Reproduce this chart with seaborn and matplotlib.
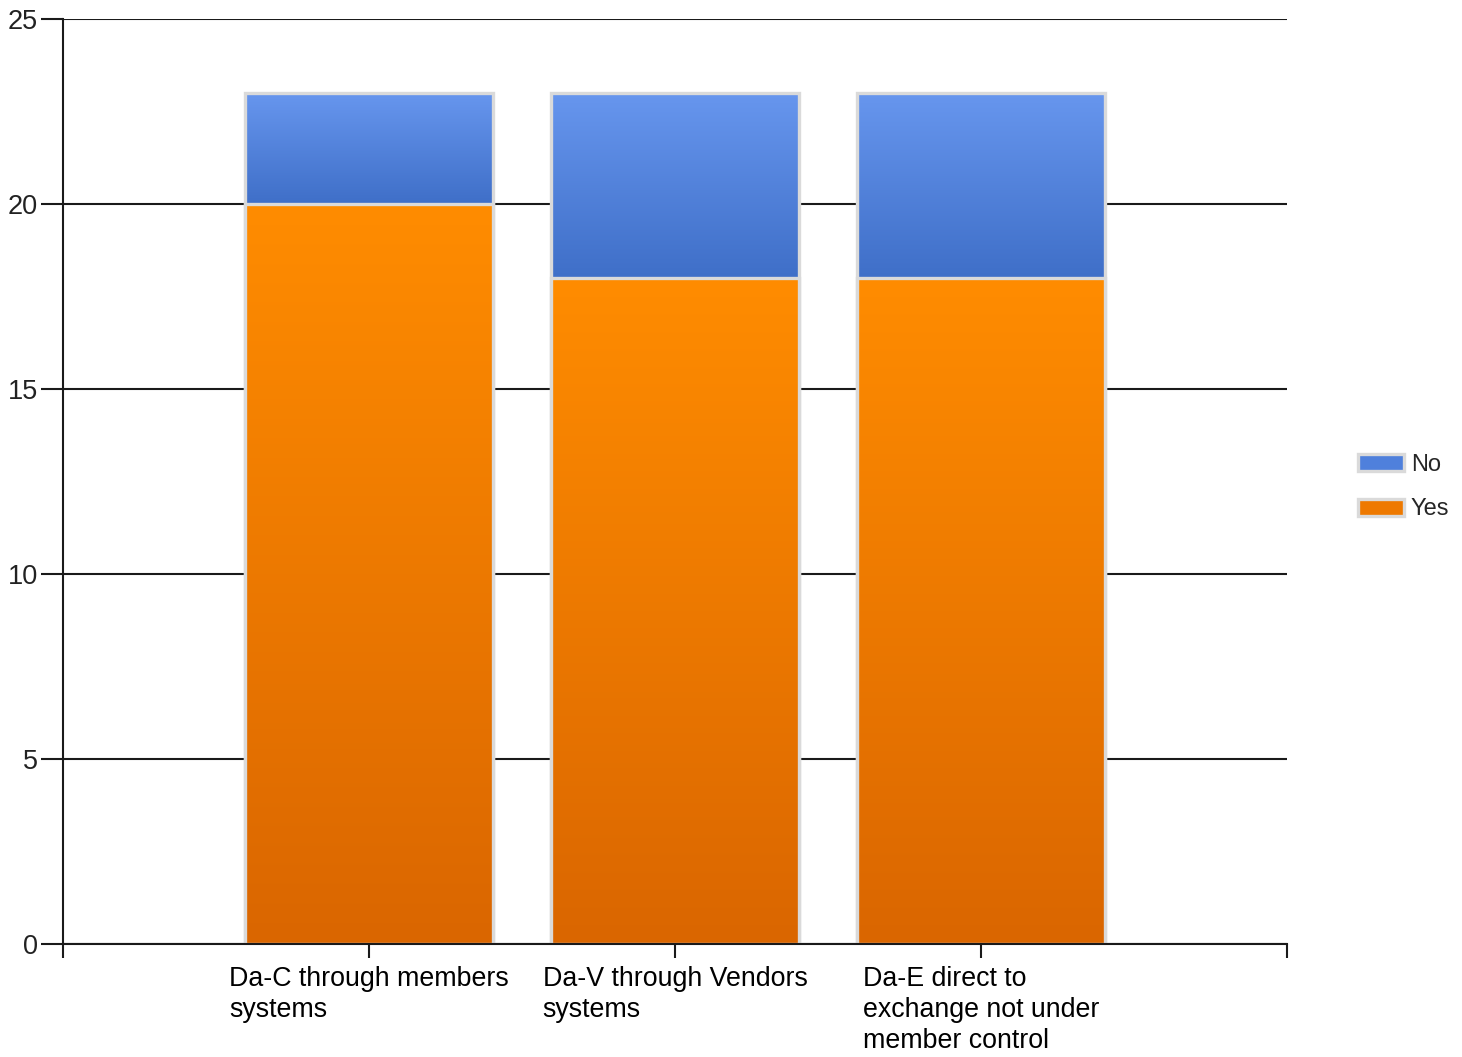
import numpy as np
import pandas as pd
import matplotlib
matplotlib.use("Agg")
import matplotlib.pyplot as plt
import matplotlib.colors as mcolors
from matplotlib.patches import Patch
import seaborn as sns

categories = ["Da-C through members\nsystems",
              "Da-V through Vendors\nsystems",
              "Da-E direct to\nexchange not under\nmember control"]
yes_values = [20, 18, 18]
no_values = [3, 5, 5]
series_names = ["No", "Yes"]
y_ticks = [0, 5, 10, 15, 20, 25]

blue_top, blue_bot = "#6796ee", "#3f6fc8"
orange_top, orange_bot = "#ff8c00", "#da6600"
edge_gray = "#dadada"

sns.set_theme(style="white")
plt.rcParams["font.family"] = ["Liberation Sans", "DejaVu Sans"]

df = pd.DataFrame({"category": categories,
                   "yes": yes_values,
                   "total": [y + n for y, n in zip(yes_values, no_values)]})

fig = plt.figure(figsize=(14.62, 10.57), dpi=100)
ax = fig.add_axes([63 / 1462, 1 - 944 / 1057, (1287 - 63) / 1462, (944 - 19) / 1057])

sns.barplot(data=df, x="category", y="total", color=blue_top, width=0.81,
            errorbar=None, ax=ax, edgecolor=edge_gray, linewidth=2.4, zorder=3)
sns.barplot(data=df, x="category", y="yes", color=orange_top, width=0.81,
            errorbar=None, ax=ax, edgecolor=edge_gray, linewidth=2.4, zorder=3)

n = len(categories)
patches = list(ax.patches)
blue_patches = patches[:n]
orange_patches = patches[n:2 * n]


def gradient(top, bot, steps=256):
    t = np.linspace(0, 1, steps)[:, None]
    c1 = np.array(mcolors.to_rgb(top))
    c2 = np.array(mcolors.to_rgb(bot))
    return (c1 * (1 - t) + c2 * t)[:, None, :]


for bp, op in zip(blue_patches, orange_patches):
    x0, w = bp.get_x(), bp.get_width()
    im = ax.imshow(gradient(blue_top, blue_bot),
                   extent=(x0, x0 + w, op.get_y() + op.get_height(), bp.get_y() + bp.get_height()),
                   aspect="auto", origin="upper", zorder=2.5, interpolation="bilinear")
    im.set_clip_path(bp)
    bp.set_facecolor("none")
    x1, w1 = op.get_x(), op.get_width()
    im2 = ax.imshow(gradient(orange_top, orange_bot),
                    extent=(x1, x1 + w1, op.get_y(), op.get_y() + op.get_height()),
                    aspect="auto", origin="upper", zorder=3.5, interpolation="bilinear")
    im2.set_clip_path(op)
    op.set_facecolor("none")
    op.set_zorder(4)

ax.set_xlim(-1, n)
ax.set_ylim(0, 25)
ax.set_yticks(y_ticks)
ax.set_yticklabels([str(v) for v in y_ticks], fontsize=19.5, color="#222222")
ax.set_xticks(range(n))
ax.set_xticklabels(categories, fontsize=19.3, color="black", ha="center", va="top",
                   multialignment="left")
ax.set_xticks([-1, n], minor=True)
ax.set_xlabel("")
ax.set_ylabel("")

ax.grid(axis="y", color="#1a1a1a", linewidth=1.5, zorder=0.5)
ax.grid(axis="x", visible=False)
ax.set_axisbelow(True)

for s in ["top", "right"]:
    ax.spines[s].set_visible(False)
for s in ["left", "bottom"]:
    ax.spines[s].set_color("#1a1a1a")
    ax.spines[s].set_linewidth(1.5)
    ax.spines[s].set_zorder(5)

ax.tick_params(axis="y", which="major", direction="out", length=16, width=1.5,
               color="#1a1a1a", pad=2, left=True)
ax.tick_params(axis="x", which="both", direction="out", length=10, width=1.5,
               color="#1a1a1a", pad=6, bottom=True)
for lab in ax.get_xticklabels():
    lab.set_linespacing(1.25)

handles = [Patch(facecolor="#4f80dc", edgecolor=edge_gray, linewidth=2.4),
           Patch(facecolor="#ee7900", edgecolor=edge_gray, linewidth=2.4)]
fig.legend(handles, series_names, loc="center left", bbox_to_anchor=(0.914, 0.539),
           frameon=False, fontsize=17, handlelength=1.95, handleheight=0.75,
           handletextpad=0.3, labelspacing=0.95)

fig.savefig("out.png", dpi=100)
